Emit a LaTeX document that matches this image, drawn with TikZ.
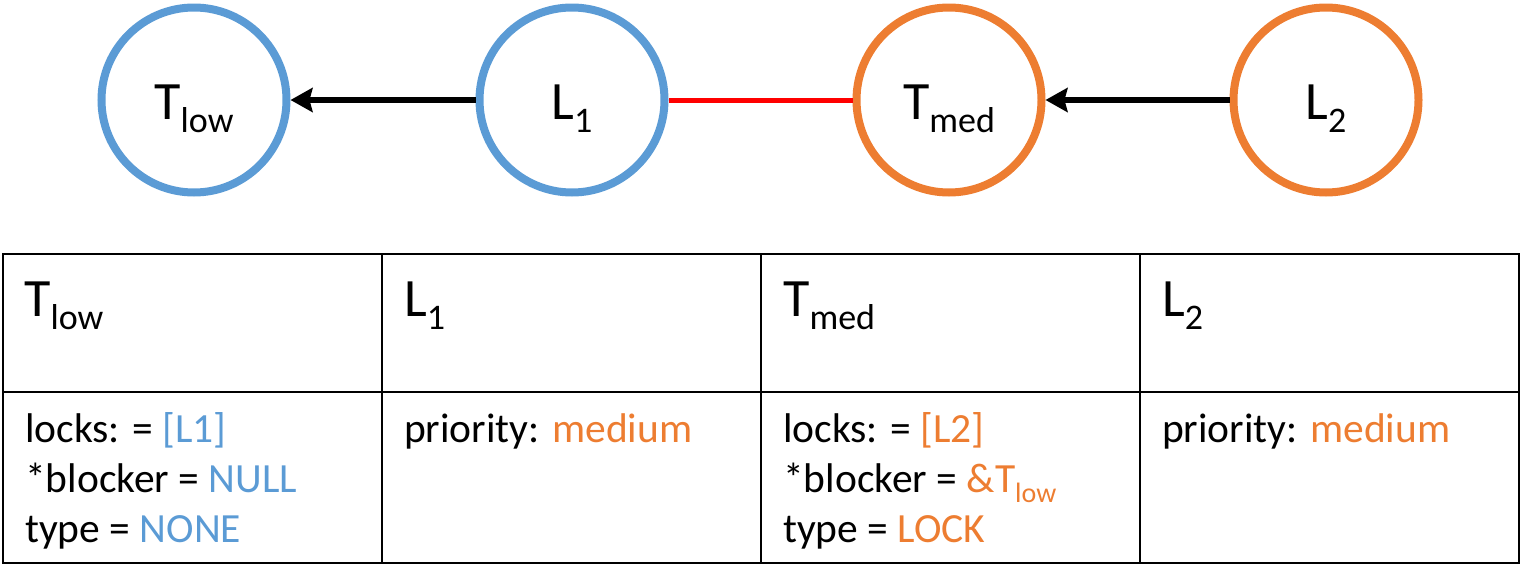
\documentclass[tikz,border=0pt]{standalone}
\usepackage{fontspec}
\setmainfont{Carlito}
\usetikzlibrary{arrows.meta}
\definecolor{cblue}{HTML}{5B9BD5}
\definecolor{corange}{HTML}{ED7D31}
\definecolor{cred}{HTML}{FF0000}
\newcommand\bigsub[1]{\raisebox{-13pt}{\fontsize{36}{40}\selectfont #1}}
\newcommand\smallsub[1]{\raisebox{-10pt}{\fontsize{28}{30}\selectfont #1}}
\begin{document}
\begin{tikzpicture}[x=1pt,y=-1pt,
  circnode/.style={circle,draw=#1,line width=8pt,minimum size=185pt,inner sep=0pt},
  bigtxt/.style={inner sep=0pt,anchor=base,font=\fontsize{54}{60}\selectfont},
  hdr/.style={inner sep=0pt,anchor=base west,font=\fontsize{54}{60}\selectfont},
  bodytxt/.style={inner sep=0pt,anchor=base west,font=\fontsize{41.5}{48}\selectfont},
  arr/.style={line width=6pt,-{Stealth[length=22pt,width=24pt,inset=3pt]}},
  gridline/.style={line width=2.5pt}]
\useasboundingbox (0,0) rectangle (1524,568);
% circles
\node[circnode=cblue] (tlow) at (194,100) {};
\node[circnode=cblue] (l1) at (572,100) {};
\node[circnode=corange] (tmed) at (949,100) {};
\node[circnode=corange] (l2) at (1326,100) {};
\node[bigtxt] (tlowt) at (194,119) {T\bigsub{low}};
\node[bigtxt] (l1t) at (572,119) {L\bigsub{1}};
\node[bigtxt] (tmedt) at (949,119) {T\bigsub{med}};
\node[bigtxt] (l2t) at (1326,119) {L\bigsub{2}};
% connectors
\draw[arr] (l1.west) -- (tlow.east);
\draw[line width=5pt,cred] (l1.east) -- (tmed.west);
\draw[arr] (l2.west) -- (tmed.east);
% table
\draw[gridline] (3,254) rectangle (1519,563);
\draw[gridline] (3,392) -- (1519,392);
\draw[gridline] (382,254) -- (382,563);
\draw[gridline] (761,254) -- (761,563);
\draw[gridline] (1140,254) -- (1140,563);
% headers
\node[hdr] (h1) at (24,316) {T\bigsub{low}};
\node[hdr] (h2) at (404,316) {L\bigsub{1}};
\node[hdr] (h3) at (783,316) {T\bigsub{med}};
\node[hdr] (h4) at (1162,316) {L\bigsub{2}};
% bodies
\node[bodytxt] (a1) at (25,442) {locks: = \textcolor{cblue}{[L1]}};
\node[bodytxt] (a2) at (25,492) {*blocker = \textcolor{cblue}{NULL}};
\node[bodytxt] (a3) at (25,542) {type = \textcolor{cblue}{NONE}};
\node[bodytxt] (b1) at (404,442) {priority: \textcolor{corange}{medium}};
\node[bodytxt] (c1) at (783,442) {locks: = \textcolor{corange}{[L2]}};
\node[bodytxt] (c2) at (783,492) {*blocker = \textcolor{corange}{\&T\smallsub{low}}};
\node[bodytxt] (c3) at (783,542) {type = \textcolor{corange}{LOCK}};
\node[bodytxt] (d1) at (1162,442) {priority: \textcolor{corange}{medium}};
\end{tikzpicture}
\end{document}
